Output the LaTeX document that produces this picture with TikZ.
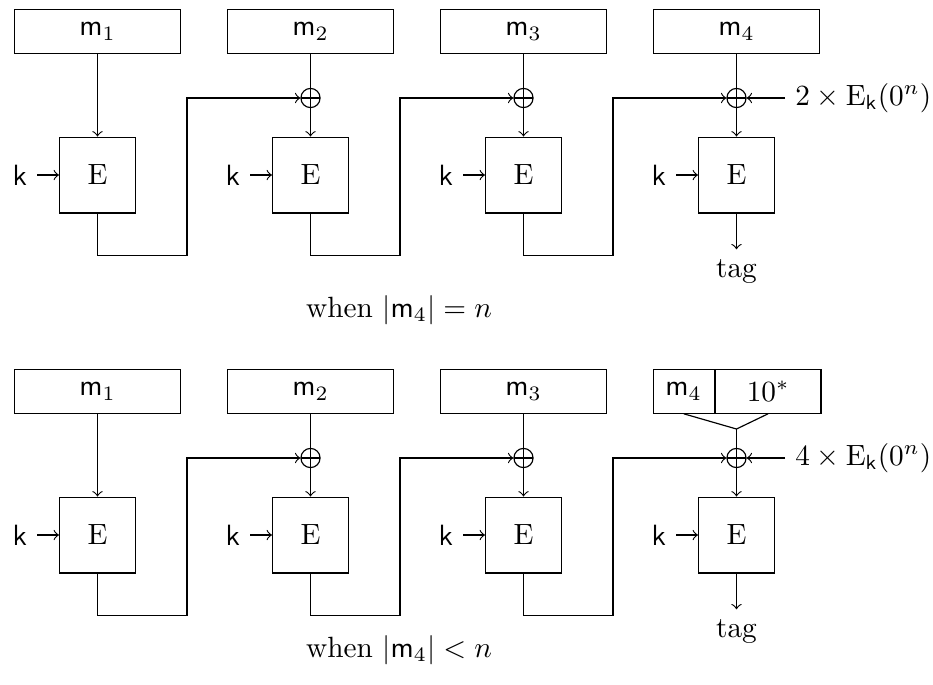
\documentclass[tikz,border=0pt]{standalone}
\usetikzlibrary{positioning}

\tikzset{
  msgbox/.style = {draw, minimum width = 2cm, minimum height = 0.52cm, inner sep = 0pt},
  encbox/.style = {draw, minimum size = 0.91cm, inner sep = 0pt},
  xorop/.style = {draw, circle, minimum size = 0.23cm, inner sep = 0pt,
    path picture = {
      \draw (path picture bounding box.west) -- (path picture bounding box.east);
      \draw (path picture bounding box.north) -- (path picture bounding box.south);
    }},
}

\begin{document}
\begin{tikzpicture}
  \useasboundingbox (0, 0) rectangle (11.196, -8.208);

  % both rows share the chain, only the last input differs
  \foreach \row/\dy/\cnum/\cmp/\capy in {t/0/2/=/-3.72, b/-4.32/4/</-3.48} {
    \begin{scope}[yshift = \dy cm]
      \foreach \i in {1, 2, 3, 4} {
        \node [encbox] (\row E\i) at ({1.17 + 2.556 * (\i - 1)}, -2.1) {E};
        \node [left = 0.26cm of \row E\i] (\row k\i) {$\mathsf{k}$};
        \draw [->] (\row k\i) -- (\row E\i);
      }
      \foreach \i in {1, 2, 3} {
        \node [msgbox] (\row m\i) at ({1.17 + 2.556 * (\i - 1)}, -0.378) {$\mathsf{m}_\i$};
      }
      \draw [->] (\row m1) -- (\row E1);
      \foreach \i in {2, 3, 4} {
        \node [xorop] (\row x\i) at ({1.17 + 2.556 * (\i - 1)}, -1.176) {};
        \draw [->] (\row x\i) -- (\row E\i);
      }
      \foreach \i in {2, 3} {
        \draw (\row m\i) -- (\row x\i);
      }
      \foreach \i/\j in {1/2, 2/3, 3/4} {
        \draw [->] (\row E\i.south) |- ++(1.074, -0.504) |- (\row x\j.west);
      }
      \node [right = 0.46cm of \row x4] (\row key) {$\cnum \times \mathrm{E}_{\mathsf{k}}(0^n)$};
      \draw [->] (\row key) -- (\row x4);
      \node [below = 0.43cm of \row E4] (\row tag) {tag};
      \draw [->] (\row E4) -- (\row tag);
      \node (\row cap) at (4.788, \capy) {when $|\mathsf{m}_4| \cmp n$};
    \end{scope}
  }

  % last block, full
  \node [msgbox] (tm4) at (8.838, -0.378) {$\mathsf{m}_4$};
  \draw (tm4) -- (tx4);

  % last block, padded
  \node [msgbox, minimum width = 0.732cm] (bm4) at (8.204, -4.698) {$\mathsf{m}_4$};
  \node [msgbox, minimum width = 1.268cm, right = 0cm of bm4] (bpad) {$10^*$};
  \coordinate (bjoin) at (8.838, -5.148);
  \draw (bm4.south) -- (bjoin) -- (bpad.south);
  \draw (bjoin) -- (bx4);
\end{tikzpicture}
\end{document}
